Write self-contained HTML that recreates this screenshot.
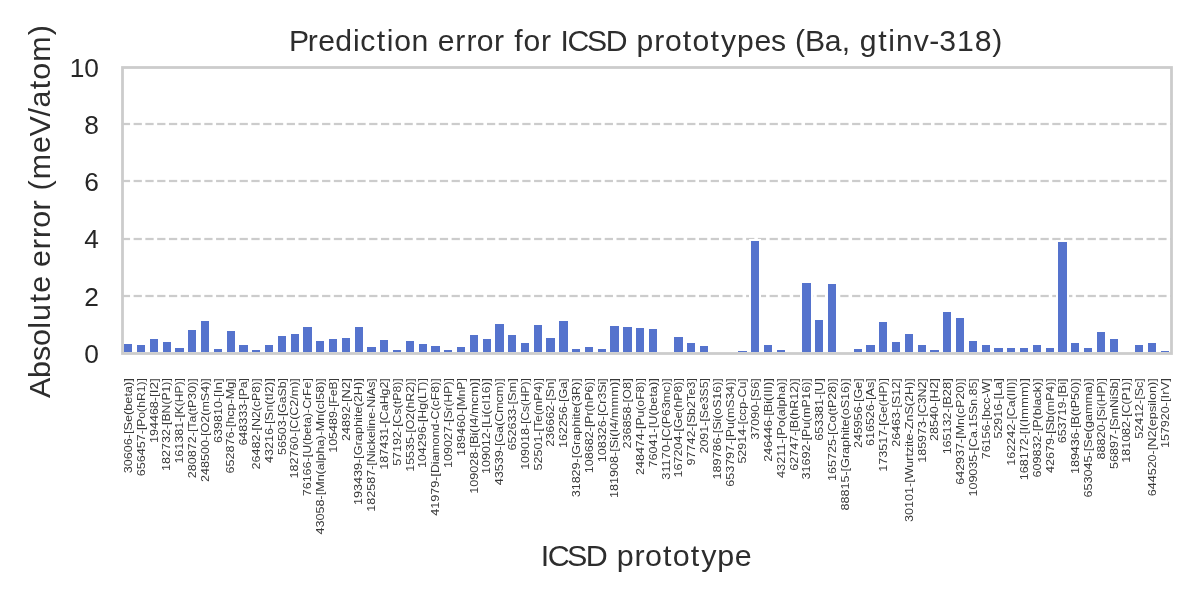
<!DOCTYPE html>
<html lang="en"><head><meta charset="utf-8"><title>Prediction error for ICSD prototypes (Ba, gtinv-318)</title>
<style>html,body{margin:0;padding:0;background:#ffffff;overflow:hidden}svg{display:block;will-change:transform}text{font-family:"Liberation Sans",sans-serif;fill:#262626;white-space:pre}.xt text{fill:#383838}.big{fill:#2d2d2d}</style></head><body>
<svg width="1200" height="600" viewBox="0 0 1200 600">
<rect x="0" y="0" width="1200" height="600" fill="#ffffff"/>
<g stroke="#f9f9f9" stroke-width="4" stroke-dasharray="8.222 3.556" fill="none">
<line x1="121.85" y1="296" x2="1171.35" y2="296"/>
<line x1="121.85" y1="239" x2="1171.35" y2="239"/>
<line x1="121.85" y1="181" x2="1171.35" y2="181"/>
<line x1="121.85" y1="124" x2="1171.35" y2="124"/>
</g>
<g stroke="#cccccc" stroke-width="2" stroke-dasharray="8.222 3.556" fill="none">
<line x1="121.85" y1="296" x2="1171.35" y2="296"/>
<line x1="121.85" y1="239" x2="1171.35" y2="239"/>
<line x1="121.85" y1="181" x2="1171.35" y2="181"/>
<line x1="121.85" y1="124" x2="1171.35" y2="124"/>
</g>
<g shape-rendering="crispEdges">
<g fill="#ffffff"><rect x="122" y="342" width="12" height="11"/><rect x="135" y="343" width="12" height="10"/><rect x="148" y="337" width="12" height="16"/><rect x="161" y="340" width="12" height="13"/><rect x="173" y="346" width="13" height="7"/><rect x="186" y="328" width="12" height="25"/><rect x="199" y="319" width="12" height="34"/><rect x="212" y="347" width="12" height="6"/><rect x="225" y="329" width="12" height="24"/><rect x="237" y="343" width="13" height="10"/><rect x="250" y="348" width="12" height="5"/><rect x="263" y="343" width="12" height="10"/><rect x="276" y="334" width="12" height="19"/><rect x="289" y="332" width="12" height="21"/><rect x="301" y="325" width="13" height="28"/><rect x="314" y="339" width="12" height="14"/><rect x="327" y="337" width="12" height="16"/><rect x="340" y="336" width="12" height="17"/><rect x="353" y="325" width="12" height="28"/><rect x="365" y="345" width="13" height="8"/><rect x="378" y="338" width="12" height="15"/><rect x="391" y="348" width="12" height="5"/><rect x="404" y="339" width="12" height="14"/><rect x="417" y="342" width="12" height="11"/><rect x="429" y="344" width="13" height="9"/><rect x="442" y="348" width="12" height="5"/><rect x="455" y="345" width="12" height="8"/><rect x="468" y="333" width="12" height="20"/><rect x="481" y="337" width="12" height="16"/><rect x="493" y="322" width="13" height="31"/><rect x="506" y="333" width="12" height="20"/><rect x="519" y="341" width="12" height="12"/><rect x="532" y="323" width="12" height="30"/><rect x="544" y="336" width="13" height="17"/><rect x="557" y="319" width="13" height="34"/><rect x="570" y="347" width="12" height="6"/><rect x="583" y="345" width="12" height="8"/><rect x="596" y="347" width="12" height="6"/><rect x="608" y="324" width="13" height="29"/><rect x="621" y="325" width="13" height="28"/><rect x="634" y="326" width="12" height="27"/><rect x="647" y="327" width="12" height="26"/><rect x="672" y="335" width="13" height="18"/><rect x="685" y="341" width="12" height="12"/><rect x="698" y="344" width="12" height="9"/><rect x="736" y="349" width="13" height="4"/><rect x="749" y="239" width="12" height="114"/><rect x="762" y="343" width="12" height="10"/><rect x="775" y="348" width="12" height="5"/><rect x="800" y="281" width="13" height="72"/><rect x="813" y="318" width="12" height="35"/><rect x="826" y="282" width="12" height="71"/><rect x="852" y="347" width="12" height="6"/><rect x="864" y="343" width="13" height="10"/><rect x="877" y="320" width="12" height="33"/><rect x="890" y="340" width="12" height="13"/><rect x="903" y="332" width="12" height="21"/><rect x="916" y="343" width="12" height="10"/><rect x="928" y="348" width="13" height="5"/><rect x="941" y="310" width="12" height="43"/><rect x="954" y="316" width="12" height="37"/><rect x="967" y="339" width="12" height="14"/><rect x="980" y="343" width="12" height="10"/><rect x="992" y="346" width="13" height="7"/><rect x="1005" y="346" width="12" height="7"/><rect x="1018" y="346" width="12" height="7"/><rect x="1031" y="343" width="12" height="10"/><rect x="1044" y="346" width="12" height="7"/><rect x="1056" y="240" width="13" height="113"/><rect x="1069" y="341" width="12" height="12"/><rect x="1082" y="346" width="12" height="7"/><rect x="1095" y="330" width="12" height="23"/><rect x="1108" y="337" width="12" height="16"/><rect x="1133" y="343" width="12" height="10"/><rect x="1146" y="341" width="12" height="12"/><rect x="1159" y="349" width="12" height="4"/></g>
<g fill="#5573cd"><rect x="124" y="344" width="8" height="8"/><rect x="137" y="345" width="8" height="7"/><rect x="150" y="339" width="8" height="13"/><rect x="163" y="342" width="8" height="10"/><rect x="175" y="348" width="9" height="4"/><rect x="188" y="330" width="8" height="22"/><rect x="201" y="321" width="8" height="31"/><rect x="214" y="349" width="8" height="3"/><rect x="227" y="331" width="8" height="21"/><rect x="239" y="345" width="9" height="7"/><rect x="252" y="350" width="8" height="2"/><rect x="265" y="345" width="8" height="7"/><rect x="278" y="336" width="8" height="16"/><rect x="291" y="334" width="8" height="18"/><rect x="303" y="327" width="9" height="25"/><rect x="316" y="341" width="8" height="11"/><rect x="329" y="339" width="8" height="13"/><rect x="342" y="338" width="8" height="14"/><rect x="355" y="327" width="8" height="25"/><rect x="367" y="347" width="9" height="5"/><rect x="380" y="340" width="8" height="12"/><rect x="393" y="350" width="8" height="2"/><rect x="406" y="341" width="8" height="11"/><rect x="419" y="344" width="8" height="8"/><rect x="431" y="346" width="9" height="6"/><rect x="444" y="350" width="8" height="2"/><rect x="457" y="347" width="8" height="5"/><rect x="470" y="335" width="8" height="17"/><rect x="483" y="339" width="8" height="13"/><rect x="495" y="324" width="9" height="28"/><rect x="508" y="335" width="8" height="17"/><rect x="521" y="343" width="8" height="9"/><rect x="534" y="325" width="8" height="27"/><rect x="546" y="338" width="9" height="14"/><rect x="559" y="321" width="9" height="31"/><rect x="572" y="349" width="8" height="3"/><rect x="585" y="347" width="8" height="5"/><rect x="598" y="349" width="8" height="3"/><rect x="610" y="326" width="9" height="26"/><rect x="623" y="327" width="9" height="25"/><rect x="636" y="328" width="8" height="24"/><rect x="649" y="329" width="8" height="23"/><rect x="674" y="337" width="9" height="15"/><rect x="687" y="343" width="8" height="9"/><rect x="700" y="346" width="8" height="6"/><rect x="738" y="351" width="9" height="1"/><rect x="751" y="241" width="8" height="111"/><rect x="764" y="345" width="8" height="7"/><rect x="777" y="350" width="8" height="2"/><rect x="802" y="283" width="9" height="69"/><rect x="815" y="320" width="8" height="32"/><rect x="828" y="284" width="8" height="68"/><rect x="854" y="349" width="8" height="3"/><rect x="866" y="345" width="9" height="7"/><rect x="879" y="322" width="8" height="30"/><rect x="892" y="342" width="8" height="10"/><rect x="905" y="334" width="8" height="18"/><rect x="918" y="345" width="8" height="7"/><rect x="930" y="350" width="9" height="2"/><rect x="943" y="312" width="8" height="40"/><rect x="956" y="318" width="8" height="34"/><rect x="969" y="341" width="8" height="11"/><rect x="982" y="345" width="8" height="7"/><rect x="994" y="348" width="9" height="4"/><rect x="1007" y="348" width="8" height="4"/><rect x="1020" y="348" width="8" height="4"/><rect x="1033" y="345" width="8" height="7"/><rect x="1046" y="348" width="8" height="4"/><rect x="1058" y="242" width="9" height="110"/><rect x="1071" y="343" width="8" height="9"/><rect x="1084" y="348" width="8" height="4"/><rect x="1097" y="332" width="8" height="20"/><rect x="1110" y="339" width="8" height="13"/><rect x="1135" y="345" width="8" height="7"/><rect x="1148" y="343" width="8" height="9"/><rect x="1161" y="351" width="8" height="1"/></g>
</g>
<rect x="122.5" y="67.5" width="1049" height="286" fill="none" stroke="#cccccc" stroke-width="2.778"/>
<text class="big" transform="translate(290.68 51.40) scale(1.0400 1)" font-size="29.00" x="-1.62 16.53 26.48 42.88 59.91 66.93 82.73 92.49 99.52 116.16 132.90 141.33 158.27 169.02 178.92 195.52 206.05 215.00 223.84 240.73 251.27 259.45 266.27 284.88 302.84 323.81 332.50 349.70 359.83 376.98 386.35 403.79 413.71 429.28 445.97 461.96 476.38 485.04 494.57 513.52 529.99 538.48 547.16 564.91 574.67 582.00 599.18 613.96 623.69 640.68 657.67 674.61">Prediction error for ICSD prototypes (Ba, gtinv-318)</text>
<text class="big" transform="translate(540.89 566.00) scale(1.0400 1)" font-size="29.30" x="-0.13 6.62 25.23 43.18 64.22 72.87 90.10 100.20 117.39 126.72 144.21 154.09 169.65 186.34">ICSD prototype</text>
<text transform="translate(50.20 397.23) rotate(-90) scale(1.0400 1)" class="big" font-size="29.30" x="-0.64 18.60 34.86 49.16 65.94 73.22 91.00 100.37 116.91 125.30 142.27 153.02 162.88 179.52 190.06 198.71 209.60 234.89 250.61 269.95 278.56 296.05 305.38 322.51 348.05">Absolute error (meV/atom)</text>
<g font-size="26.30" text-anchor="end">
<text x="98.90" y="362.70">0</text>
<text x="98.90" y="305.58">2</text>
<text x="98.90" y="248.46">4</text>
<text x="98.90" y="191.34">6</text>
<text x="98.90" y="134.22">8</text>
<text x="98.90" y="77.10">10</text>
</g>
<g class="xt" font-size="11.50">
<text transform="translate(132.00 473.14) rotate(-90)" textLength="39.07" lengthAdjust="spacingAndGlyphs">30606-</text>
<text transform="translate(132.00 434.07) rotate(-90)" textLength="55.87" lengthAdjust="spacingAndGlyphs">[Se(beta)]</text>
<text transform="translate(144.80 476.20) rotate(-90)" textLength="46.10" lengthAdjust="spacingAndGlyphs">656457-</text>
<text transform="translate(144.80 430.10) rotate(-90)" textLength="51.90" lengthAdjust="spacingAndGlyphs">[Po(hR1)]</text>
<text transform="translate(157.60 442.94) rotate(-90)" textLength="45.93" lengthAdjust="spacingAndGlyphs">194468-</text>
<text transform="translate(157.60 397.01) rotate(-90)" textLength="18.81" lengthAdjust="spacingAndGlyphs">[I2]</text>
<text transform="translate(170.40 470.97) rotate(-90)" textLength="46.08" lengthAdjust="spacingAndGlyphs">182732-</text>
<text transform="translate(170.40 424.89) rotate(-90)" textLength="46.69" lengthAdjust="spacingAndGlyphs">[BN(P1)]</text>
<text transform="translate(183.19 463.61) rotate(-90)" textLength="46.05" lengthAdjust="spacingAndGlyphs">161381-</text>
<text transform="translate(183.19 417.56) rotate(-90)" textLength="39.36" lengthAdjust="spacingAndGlyphs">[K(HP)]</text>
<text transform="translate(195.99 478.22) rotate(-90)" textLength="46.10" lengthAdjust="spacingAndGlyphs">280872-</text>
<text transform="translate(195.99 432.11) rotate(-90)" textLength="53.91" lengthAdjust="spacingAndGlyphs">[Ta(tP30)]</text>
<text transform="translate(208.79 482.03) rotate(-90)" textLength="46.11" lengthAdjust="spacingAndGlyphs">248500-</text>
<text transform="translate(208.79 435.91) rotate(-90)" textLength="57.71" lengthAdjust="spacingAndGlyphs">[O2(mS4)]</text>
<text transform="translate(221.59 442.91) rotate(-90)" textLength="45.93" lengthAdjust="spacingAndGlyphs">639810-</text>
<text transform="translate(221.59 396.99) rotate(-90)" textLength="18.79" lengthAdjust="spacingAndGlyphs">[In]</text>
<text transform="translate(234.39 473.45) rotate(-90)" textLength="46.09" lengthAdjust="spacingAndGlyphs">652876-</text>
<text transform="translate(234.39 427.36) rotate(-90)" textLength="49.16" lengthAdjust="spacingAndGlyphs">[hcp-Mg]</text>
<text transform="translate(247.19 445.60) rotate(-90)" textLength="45.95" lengthAdjust="spacingAndGlyphs">648333-</text>
<text transform="translate(247.19 399.66) rotate(-90)" textLength="21.46" lengthAdjust="spacingAndGlyphs">[Pa]</text>
<text transform="translate(259.99 469.45) rotate(-90)" textLength="39.06" lengthAdjust="spacingAndGlyphs">26482-</text>
<text transform="translate(259.99 430.40) rotate(-90)" textLength="52.20" lengthAdjust="spacingAndGlyphs">[N2(cP8)]</text>
<text transform="translate(272.79 462.99) rotate(-90)" textLength="39.03" lengthAdjust="spacingAndGlyphs">43216-</text>
<text transform="translate(272.79 423.96) rotate(-90)" textLength="45.76" lengthAdjust="spacingAndGlyphs">[Sn(tI2)]</text>
<text transform="translate(285.58 455.05) rotate(-90)" textLength="39.00" lengthAdjust="spacingAndGlyphs">56503-</text>
<text transform="translate(285.58 416.05) rotate(-90)" textLength="37.85" lengthAdjust="spacingAndGlyphs">[GaSb]</text>
<text transform="translate(298.38 478.42) rotate(-90)" textLength="46.10" lengthAdjust="spacingAndGlyphs">182760-</text>
<text transform="translate(298.38 432.31) rotate(-90)" textLength="54.11" lengthAdjust="spacingAndGlyphs">[C(C2/m)]</text>
<text transform="translate(311.18 496.34) rotate(-90)" textLength="39.12" lengthAdjust="spacingAndGlyphs">76166-</text>
<text transform="translate(311.18 457.21) rotate(-90)" textLength="79.01" lengthAdjust="spacingAndGlyphs">[U(beta)-CrFe]</text>
<text transform="translate(323.98 534.46) rotate(-90)" textLength="39.18" lengthAdjust="spacingAndGlyphs">43058-</text>
<text transform="translate(323.98 495.28) rotate(-90)" textLength="117.08" lengthAdjust="spacingAndGlyphs">[Mn(alpha)-Mn(cI58)]</text>
<text transform="translate(336.78 452.84) rotate(-90)" textLength="45.99" lengthAdjust="spacingAndGlyphs">105489-</text>
<text transform="translate(336.78 406.84) rotate(-90)" textLength="28.64" lengthAdjust="spacingAndGlyphs">[FeB]</text>
<text transform="translate(349.58 440.91) rotate(-90)" textLength="38.92" lengthAdjust="spacingAndGlyphs">24892-</text>
<text transform="translate(349.58 401.99) rotate(-90)" textLength="23.79" lengthAdjust="spacingAndGlyphs">[N2]</text>
<text transform="translate(362.38 505.05) rotate(-90)" textLength="46.17" lengthAdjust="spacingAndGlyphs">193439-</text>
<text transform="translate(362.38 458.88) rotate(-90)" textLength="80.68" lengthAdjust="spacingAndGlyphs">[Graphite(2H)]</text>
<text transform="translate(375.18 511.83) rotate(-90)" textLength="46.18" lengthAdjust="spacingAndGlyphs">182587-</text>
<text transform="translate(375.18 465.64) rotate(-90)" textLength="87.44" lengthAdjust="spacingAndGlyphs">[Nickeline-NiAs]</text>
<text transform="translate(387.98 469.64) rotate(-90)" textLength="46.07" lengthAdjust="spacingAndGlyphs">187431-</text>
<text transform="translate(387.98 423.57) rotate(-90)" textLength="45.37" lengthAdjust="spacingAndGlyphs">[CaHg2]</text>
<text transform="translate(400.77 465.87) rotate(-90)" textLength="39.04" lengthAdjust="spacingAndGlyphs">57192-</text>
<text transform="translate(400.77 426.82) rotate(-90)" textLength="48.62" lengthAdjust="spacingAndGlyphs">[Cs(tP8)]</text>
<text transform="translate(413.57 471.84) rotate(-90)" textLength="39.06" lengthAdjust="spacingAndGlyphs">15535-</text>
<text transform="translate(413.57 432.78) rotate(-90)" textLength="54.58" lengthAdjust="spacingAndGlyphs">[O2(hR2)]</text>
<text transform="translate(426.37 468.12) rotate(-90)" textLength="46.07" lengthAdjust="spacingAndGlyphs">104296-</text>
<text transform="translate(426.37 422.05) rotate(-90)" textLength="43.85" lengthAdjust="spacingAndGlyphs">[Hg(LT)]</text>
<text transform="translate(439.17 515.70) rotate(-90)" textLength="39.16" lengthAdjust="spacingAndGlyphs">41979-</text>
<text transform="translate(439.17 476.54) rotate(-90)" textLength="98.34" lengthAdjust="spacingAndGlyphs">[Diamond-C(cF8)]</text>
<text transform="translate(451.97 467.94) rotate(-90)" textLength="46.07" lengthAdjust="spacingAndGlyphs">109027-</text>
<text transform="translate(451.97 421.88) rotate(-90)" textLength="43.68" lengthAdjust="spacingAndGlyphs">[Sr(HP)]</text>
<text transform="translate(464.77 455.92) rotate(-90)" textLength="46.01" lengthAdjust="spacingAndGlyphs">189460-</text>
<text transform="translate(464.77 409.91) rotate(-90)" textLength="31.71" lengthAdjust="spacingAndGlyphs">[MnP]</text>
<text transform="translate(477.57 493.82) rotate(-90)" textLength="46.15" lengthAdjust="spacingAndGlyphs">109028-</text>
<text transform="translate(477.57 447.67) rotate(-90)" textLength="69.47" lengthAdjust="spacingAndGlyphs">[Bi(I4/mcm)]</text>
<text transform="translate(490.37 474.07) rotate(-90)" textLength="46.09" lengthAdjust="spacingAndGlyphs">109012-</text>
<text transform="translate(490.37 427.98) rotate(-90)" textLength="49.78" lengthAdjust="spacingAndGlyphs">[Li(cI16)]</text>
<text transform="translate(503.16 485.13) rotate(-90)" textLength="39.10" lengthAdjust="spacingAndGlyphs">43539-</text>
<text transform="translate(503.16 446.03) rotate(-90)" textLength="67.83" lengthAdjust="spacingAndGlyphs">[Ga(Cmcm)]</text>
<text transform="translate(515.96 450.47) rotate(-90)" textLength="45.98" lengthAdjust="spacingAndGlyphs">652633-</text>
<text transform="translate(515.96 404.49) rotate(-90)" textLength="26.29" lengthAdjust="spacingAndGlyphs">[Sm]</text>
<text transform="translate(528.76 469.87) rotate(-90)" textLength="46.07" lengthAdjust="spacingAndGlyphs">109018-</text>
<text transform="translate(528.76 423.79) rotate(-90)" textLength="45.59" lengthAdjust="spacingAndGlyphs">[Cs(HP)]</text>
<text transform="translate(541.56 470.52) rotate(-90)" textLength="39.06" lengthAdjust="spacingAndGlyphs">52501-</text>
<text transform="translate(541.56 431.46) rotate(-90)" textLength="53.26" lengthAdjust="spacingAndGlyphs">[Te(mP4)]</text>
<text transform="translate(554.36 446.69) rotate(-90)" textLength="45.96" lengthAdjust="spacingAndGlyphs">236662-</text>
<text transform="translate(554.36 400.73) rotate(-90)" textLength="22.53" lengthAdjust="spacingAndGlyphs">[Sn]</text>
<text transform="translate(567.16 448.01) rotate(-90)" textLength="45.96" lengthAdjust="spacingAndGlyphs">162256-</text>
<text transform="translate(567.16 402.05) rotate(-90)" textLength="23.85" lengthAdjust="spacingAndGlyphs">[Ga]</text>
<text transform="translate(579.96 497.35) rotate(-90)" textLength="39.13" lengthAdjust="spacingAndGlyphs">31829-</text>
<text transform="translate(579.96 458.22) rotate(-90)" textLength="80.02" lengthAdjust="spacingAndGlyphs">[Graphite(3R)]</text>
<text transform="translate(592.76 473.15) rotate(-90)" textLength="46.09" lengthAdjust="spacingAndGlyphs">108682-</text>
<text transform="translate(592.76 427.06) rotate(-90)" textLength="48.86" lengthAdjust="spacingAndGlyphs">[Pr(hP6)]</text>
<text transform="translate(605.55 462.13) rotate(-90)" textLength="46.04" lengthAdjust="spacingAndGlyphs">108326-</text>
<text transform="translate(605.55 416.09) rotate(-90)" textLength="37.89" lengthAdjust="spacingAndGlyphs">[Cr3Si]</text>
<text transform="translate(618.35 497.97) rotate(-90)" textLength="46.16" lengthAdjust="spacingAndGlyphs">181908-</text>
<text transform="translate(618.35 451.81) rotate(-90)" textLength="73.61" lengthAdjust="spacingAndGlyphs">[Si(I4/mmm)]</text>
<text transform="translate(631.15 448.41) rotate(-90)" textLength="45.97" lengthAdjust="spacingAndGlyphs">236858-</text>
<text transform="translate(631.15 402.44) rotate(-90)" textLength="24.24" lengthAdjust="spacingAndGlyphs">[O8]</text>
<text transform="translate(643.95 475.07) rotate(-90)" textLength="46.09" lengthAdjust="spacingAndGlyphs">248474-</text>
<text transform="translate(643.95 428.98) rotate(-90)" textLength="50.78" lengthAdjust="spacingAndGlyphs">[Pu(oF8)]</text>
<text transform="translate(656.75 467.38) rotate(-90)" textLength="39.05" lengthAdjust="spacingAndGlyphs">76041-</text>
<text transform="translate(656.75 428.33) rotate(-90)" textLength="50.13" lengthAdjust="spacingAndGlyphs">[U(beta)]</text>
<text transform="translate(669.55 479.72) rotate(-90)" textLength="39.09" lengthAdjust="spacingAndGlyphs">31170-</text>
<text transform="translate(669.55 440.64) rotate(-90)" textLength="62.44" lengthAdjust="spacingAndGlyphs">[C(P63mc)]</text>
<text transform="translate(682.35 477.52) rotate(-90)" textLength="46.10" lengthAdjust="spacingAndGlyphs">167204-</text>
<text transform="translate(682.35 431.42) rotate(-90)" textLength="53.22" lengthAdjust="spacingAndGlyphs">[Ge(hP8)]</text>
<text transform="translate(695.15 465.51) rotate(-90)" textLength="39.04" lengthAdjust="spacingAndGlyphs">97742-</text>
<text transform="translate(695.15 426.46) rotate(-90)" textLength="48.26" lengthAdjust="spacingAndGlyphs">[Sb2Te3]</text>
<text transform="translate(707.94 453.54) rotate(-90)" textLength="31.99" lengthAdjust="spacingAndGlyphs">2091-</text>
<text transform="translate(707.94 421.55) rotate(-90)" textLength="43.35" lengthAdjust="spacingAndGlyphs">[Se3S5]</text>
<text transform="translate(720.74 479.39) rotate(-90)" textLength="46.11" lengthAdjust="spacingAndGlyphs">189786-</text>
<text transform="translate(720.74 433.29) rotate(-90)" textLength="55.09" lengthAdjust="spacingAndGlyphs">[Si(oS16)]</text>
<text transform="translate(733.54 486.83) rotate(-90)" textLength="46.13" lengthAdjust="spacingAndGlyphs">653797-</text>
<text transform="translate(733.54 440.70) rotate(-90)" textLength="62.50" lengthAdjust="spacingAndGlyphs">[Pu(mS34)]</text>
<text transform="translate(746.34 463.61) rotate(-90)" textLength="39.04" lengthAdjust="spacingAndGlyphs">52914-</text>
<text transform="translate(746.34 424.57) rotate(-90)" textLength="46.37" lengthAdjust="spacingAndGlyphs">[ccp-Cu]</text>
<text transform="translate(759.14 439.65) rotate(-90)" textLength="38.91" lengthAdjust="spacingAndGlyphs">37090-</text>
<text transform="translate(759.14 400.74) rotate(-90)" textLength="22.54" lengthAdjust="spacingAndGlyphs">[S6]</text>
<text transform="translate(771.94 461.81) rotate(-90)" textLength="46.04" lengthAdjust="spacingAndGlyphs">246446-</text>
<text transform="translate(771.94 415.77) rotate(-90)" textLength="37.57" lengthAdjust="spacingAndGlyphs">[Bi(III)]</text>
<text transform="translate(784.74 478.10) rotate(-90)" textLength="39.08" lengthAdjust="spacingAndGlyphs">43211-</text>
<text transform="translate(784.74 439.02) rotate(-90)" textLength="60.82" lengthAdjust="spacingAndGlyphs">[Po(alpha)]</text>
<text transform="translate(797.54 470.72) rotate(-90)" textLength="39.06" lengthAdjust="spacingAndGlyphs">62747-</text>
<text transform="translate(797.54 431.66) rotate(-90)" textLength="53.46" lengthAdjust="spacingAndGlyphs">[B(hR12)]</text>
<text transform="translate(810.33 479.40) rotate(-90)" textLength="39.09" lengthAdjust="spacingAndGlyphs">31692-</text>
<text transform="translate(810.33 440.32) rotate(-90)" textLength="62.12" lengthAdjust="spacingAndGlyphs">[Pu(mP16)]</text>
<text transform="translate(823.13 440.73) rotate(-90)" textLength="45.91" lengthAdjust="spacingAndGlyphs">653381-</text>
<text transform="translate(823.13 394.82) rotate(-90)" textLength="16.62" lengthAdjust="spacingAndGlyphs">[U]</text>
<text transform="translate(835.93 481.02) rotate(-90)" textLength="46.11" lengthAdjust="spacingAndGlyphs">165725-</text>
<text transform="translate(835.93 434.91) rotate(-90)" textLength="56.71" lengthAdjust="spacingAndGlyphs">[Co(tP28)]</text>
<text transform="translate(848.73 510.55) rotate(-90)" textLength="39.15" lengthAdjust="spacingAndGlyphs">88815-</text>
<text transform="translate(848.73 471.40) rotate(-90)" textLength="93.20" lengthAdjust="spacingAndGlyphs">[Graphite(oS16)]</text>
<text transform="translate(861.53 448.04) rotate(-90)" textLength="45.96" lengthAdjust="spacingAndGlyphs">245956-</text>
<text transform="translate(861.53 402.08) rotate(-90)" textLength="23.88" lengthAdjust="spacingAndGlyphs">[Ge]</text>
<text transform="translate(874.33 445.98) rotate(-90)" textLength="45.95" lengthAdjust="spacingAndGlyphs">616526-</text>
<text transform="translate(874.33 400.03) rotate(-90)" textLength="21.83" lengthAdjust="spacingAndGlyphs">[As]</text>
<text transform="translate(887.13 471.77) rotate(-90)" textLength="46.08" lengthAdjust="spacingAndGlyphs">173517-</text>
<text transform="translate(887.13 425.69) rotate(-90)" textLength="47.49" lengthAdjust="spacingAndGlyphs">[Ge(HP)]</text>
<text transform="translate(899.93 446.72) rotate(-90)" textLength="38.96" lengthAdjust="spacingAndGlyphs">26463-</text>
<text transform="translate(899.93 407.76) rotate(-90)" textLength="29.56" lengthAdjust="spacingAndGlyphs">[S12]</text>
<text transform="translate(912.73 522.00) rotate(-90)" textLength="39.17" lengthAdjust="spacingAndGlyphs">30101-</text>
<text transform="translate(912.73 482.84) rotate(-90)" textLength="104.64" lengthAdjust="spacingAndGlyphs">[Wurtzite-ZnS(2H)]</text>
<text transform="translate(925.52 462.80) rotate(-90)" textLength="46.04" lengthAdjust="spacingAndGlyphs">185973-</text>
<text transform="translate(925.52 416.76) rotate(-90)" textLength="38.56" lengthAdjust="spacingAndGlyphs">[C3N2]</text>
<text transform="translate(938.32 440.95) rotate(-90)" textLength="38.92" lengthAdjust="spacingAndGlyphs">28540-</text>
<text transform="translate(938.32 402.03) rotate(-90)" textLength="23.83" lengthAdjust="spacingAndGlyphs">[H2]</text>
<text transform="translate(951.12 454.36) rotate(-90)" textLength="46.00" lengthAdjust="spacingAndGlyphs">165132-</text>
<text transform="translate(951.12 408.35) rotate(-90)" textLength="30.15" lengthAdjust="spacingAndGlyphs">[B28]</text>
<text transform="translate(963.92 484.84) rotate(-90)" textLength="46.12" lengthAdjust="spacingAndGlyphs">642937-</text>
<text transform="translate(963.92 438.72) rotate(-90)" textLength="60.52" lengthAdjust="spacingAndGlyphs">[Mn(cP20)]</text>
<text transform="translate(976.72 496.60) rotate(-90)" textLength="46.15" lengthAdjust="spacingAndGlyphs">109035-</text>
<text transform="translate(976.72 450.45) rotate(-90)" textLength="72.25" lengthAdjust="spacingAndGlyphs">[Ca.15Sn.85]</text>
<text transform="translate(989.52 459.34) rotate(-90)" textLength="39.02" lengthAdjust="spacingAndGlyphs">76156-</text>
<text transform="translate(989.52 420.32) rotate(-90)" textLength="42.12" lengthAdjust="spacingAndGlyphs">[bcc-W]</text>
<text transform="translate(1002.32 438.52) rotate(-90)" textLength="38.90" lengthAdjust="spacingAndGlyphs">52916-</text>
<text transform="translate(1002.32 399.62) rotate(-90)" textLength="21.42" lengthAdjust="spacingAndGlyphs">[La]</text>
<text transform="translate(1015.12 465.66) rotate(-90)" textLength="46.06" lengthAdjust="spacingAndGlyphs">162242-</text>
<text transform="translate(1015.12 419.61) rotate(-90)" textLength="41.41" lengthAdjust="spacingAndGlyphs">[Ca(III)]</text>
<text transform="translate(1027.91 480.29) rotate(-90)" textLength="46.11" lengthAdjust="spacingAndGlyphs">168172-</text>
<text transform="translate(1027.91 434.18) rotate(-90)" textLength="55.98" lengthAdjust="spacingAndGlyphs">[I(Immm)]</text>
<text transform="translate(1040.71 477.46) rotate(-90)" textLength="46.10" lengthAdjust="spacingAndGlyphs">609832-</text>
<text transform="translate(1040.71 431.36) rotate(-90)" textLength="53.16" lengthAdjust="spacingAndGlyphs">[P(black)]</text>
<text transform="translate(1053.51 472.89) rotate(-90)" textLength="39.07" lengthAdjust="spacingAndGlyphs">42679-</text>
<text transform="translate(1053.51 433.83) rotate(-90)" textLength="55.63" lengthAdjust="spacingAndGlyphs">[Sb(mP4)]</text>
<text transform="translate(1066.31 443.30) rotate(-90)" textLength="45.93" lengthAdjust="spacingAndGlyphs">653719-</text>
<text transform="translate(1066.31 397.37) rotate(-90)" textLength="19.17" lengthAdjust="spacingAndGlyphs">[Bi]</text>
<text transform="translate(1079.11 474.08) rotate(-90)" textLength="46.09" lengthAdjust="spacingAndGlyphs">189436-</text>
<text transform="translate(1079.11 427.99) rotate(-90)" textLength="49.79" lengthAdjust="spacingAndGlyphs">[B(tP50)]</text>
<text transform="translate(1091.91 497.47) rotate(-90)" textLength="46.15" lengthAdjust="spacingAndGlyphs">653045-</text>
<text transform="translate(1091.91 451.32) rotate(-90)" textLength="73.12" lengthAdjust="spacingAndGlyphs">[Se(gamma)]</text>
<text transform="translate(1104.71 459.39) rotate(-90)" textLength="39.02" lengthAdjust="spacingAndGlyphs">88820-</text>
<text transform="translate(1104.71 420.37) rotate(-90)" textLength="42.17" lengthAdjust="spacingAndGlyphs">[Si(HP)]</text>
<text transform="translate(1117.51 468.91) rotate(-90)" textLength="39.05" lengthAdjust="spacingAndGlyphs">56897-</text>
<text transform="translate(1117.51 429.85) rotate(-90)" textLength="51.65" lengthAdjust="spacingAndGlyphs">[SmNiSb]</text>
<text transform="translate(1130.30 462.79) rotate(-90)" textLength="46.04" lengthAdjust="spacingAndGlyphs">181082-</text>
<text transform="translate(1130.30 416.75) rotate(-90)" textLength="38.55" lengthAdjust="spacingAndGlyphs">[C(P1)]</text>
<text transform="translate(1143.10 438.69) rotate(-90)" textLength="38.91" lengthAdjust="spacingAndGlyphs">52412-</text>
<text transform="translate(1143.10 399.78) rotate(-90)" textLength="21.58" lengthAdjust="spacingAndGlyphs">[Sc]</text>
<text transform="translate(1155.90 496.34) rotate(-90)" textLength="46.15" lengthAdjust="spacingAndGlyphs">644520-</text>
<text transform="translate(1155.90 450.19) rotate(-90)" textLength="71.99" lengthAdjust="spacingAndGlyphs">[N2(epsilon)]</text>
<text transform="translate(1168.70 448.04) rotate(-90)" textLength="45.96" lengthAdjust="spacingAndGlyphs">157920-</text>
<text transform="translate(1168.70 402.08) rotate(-90)" textLength="23.88" lengthAdjust="spacingAndGlyphs">[IrV]</text>
</g>
</svg></body></html>
